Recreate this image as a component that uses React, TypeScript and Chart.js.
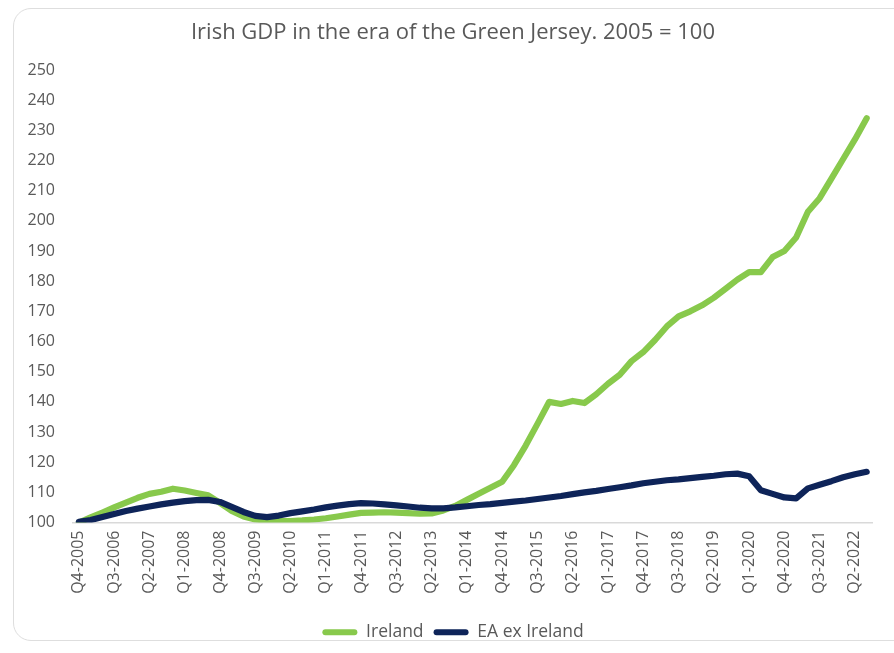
import React, { useEffect, useRef } from "react";
import { Chart, registerables } from "chart.js";

Chart.register(...registerables);

const quarters: string[] = [
  "Q4-2005",
  "Q1-2006", "Q2-2006", "Q3-2006", "Q4-2006",
  "Q1-2007", "Q2-2007", "Q3-2007", "Q4-2007",
  "Q1-2008", "Q2-2008", "Q3-2008", "Q4-2008",
  "Q1-2009", "Q2-2009", "Q3-2009", "Q4-2009",
  "Q1-2010", "Q2-2010", "Q3-2010", "Q4-2010",
  "Q1-2011", "Q2-2011", "Q3-2011", "Q4-2011",
  "Q1-2012", "Q2-2012", "Q3-2012", "Q4-2012",
  "Q1-2013", "Q2-2013", "Q3-2013", "Q4-2013",
  "Q1-2014", "Q2-2014", "Q3-2014", "Q4-2014",
  "Q1-2015", "Q2-2015", "Q3-2015", "Q4-2015",
  "Q1-2016", "Q2-2016", "Q3-2016", "Q4-2016",
  "Q1-2017", "Q2-2017", "Q3-2017", "Q4-2017",
  "Q1-2018", "Q2-2018", "Q3-2018", "Q4-2018",
  "Q1-2019", "Q2-2019", "Q3-2019", "Q4-2019",
  "Q1-2020", "Q2-2020", "Q3-2020", "Q4-2020",
  "Q1-2021", "Q2-2021", "Q3-2021", "Q4-2021",
  "Q1-2022", "Q2-2022", "Q3-2022",
];

const ireland: number[] = [
  100, 101.7, 103.3, 105, 106.6, 108.2, 109.5, 110.2, 111.2, 110.6,
  109.8, 109, 106.5, 103.8, 102, 101, 100.6, 100.5, 100.5, 100.7,
  101, 101.4, 102, 102.6, 103.2, 103.3, 103.4, 103.3, 103.1, 102.9,
  103, 104, 105.5, 107.5, 109.5, 111.5, 113.5, 119, 125.5, 132.7,
  140, 139.3, 140.3, 139.6, 142.5, 146, 149, 153.5, 156.5, 160.5,
  165, 168.3, 170, 172, 174.5, 177.5, 180.5, 183, 183, 188,
  190, 194.5, 203, 207.5, 214, 220.5, 227, 234,
];

const eaExIreland: number[] = [
  100.2, 100.8, 101.8, 102.8, 103.8, 104.6, 105.3, 106, 106.6, 107.1,
  107.4, 107.5, 106.8, 105.2, 103.5, 102.2, 101.8, 102.3, 103.1, 103.7,
  104.3, 105, 105.6, 106.1, 106.4, 106.3, 106, 105.7, 105.3, 104.9,
  104.7, 104.7, 105, 105.4, 105.8, 106.1, 106.5, 106.9, 107.3, 107.8,
  108.3, 108.8, 109.4, 110, 110.5, 111.1, 111.7, 112.3, 113, 113.5,
  114, 114.3, 114.7, 115.1, 115.5, 116, 116.2, 115.3, 110.7, 109.5,
  108.3, 108, 111.3, 112.5, 113.7, 115, 116, 116.8,
];

const seriesNames: string[] = ["Ireland", "EA ex Ireland"];
const titleText = "Irish GDP in the era of the Green Jersey. 2005 = 100";

const GREEN = "#88c94c";
const NAVY = "#0e2459";
const TEXT = "#595959";
const FONT = "'Open Sans', 'DejaVu Sans', sans-serif";

export default function App() {
  const canvasRef = useRef<HTMLCanvasElement | null>(null);

  useEffect(() => {
    if (!canvasRef.current) return;
    const chart = new Chart(canvasRef.current, {
      type: "line",
      data: {
        labels: quarters,
        datasets: [
          {
            label: seriesNames[0],
            data: ireland,
            borderColor: GREEN,
            backgroundColor: GREEN,
            borderWidth: 6.2,
            pointRadius: 0,
            tension: 0,
            borderJoinStyle: "round",
            borderCapStyle: "round",
            order: 1,
          },
          {
            label: seriesNames[1],
            data: eaExIreland,
            borderColor: NAVY,
            backgroundColor: NAVY,
            borderWidth: 6.2,
            pointRadius: 0,
            tension: 0,
            borderJoinStyle: "round",
            borderCapStyle: "round",
            order: 0,
          },
        ],
      },
      options: {
        animation: false,
        responsive: false,
        devicePixelRatio: 1,
        layout: { padding: { left: 27, right: 15, top: 20, bottom: 2 } },
        plugins: {
          tooltip: { enabled: false },
          title: {
            display: true,
            text: titleText,
            color: TEXT,
            font: { family: FONT, size: 22, weight: "normal" },
            padding: { top: 0, bottom: 23.6 },
          },
          legend: {
            display: true,
            position: "bottom",
            labels: {
              boxWidth: 35,
              boxHeight: 6,
              padding: 10,
              color: TEXT,
              font: { family: FONT, size: 17.5 },
              sort: (a: any, b: any) => a.datasetIndex - b.datasetIndex,
              generateLabels: (c: any) =>
                Chart.defaults.plugins.legend.labels
                  .generateLabels(c)
                  .map((l: any) => ({ ...l, lineWidth: 0, borderRadius: 3 })),
            },
          },
        },
        scales: {
          x: {
            type: "category",
            offset: true,
            grid: { display: false, drawTicks: false },
            border: { display: true, color: "#d9d9d9", width: 1.5 },
            ticks: {
              autoSkip: false,
              minRotation: 90,
              maxRotation: 90,
              padding: 8,
              color: TEXT,
              font: { family: FONT, size: 16 },
              callback: (_v: any, i: number) => (i % 3 === 0 ? quarters[i] : ""),
            },
            afterFit: (s: any) => {
              s.height = 91;
            },
          },
          y: {
            min: 100,
            max: 250,
            grid: { display: false, drawTicks: false },
            border: { display: false },
            ticks: {
              stepSize: 10,
              padding: 18,
              color: TEXT,
              font: { family: FONT, size: 16 },
            },
            afterFit: (s: any) => {
              s.width = 46;
            },
          },
        },
      },
    } as any);
    return () => chart.destroy();
  }, []);

  return (
    <div
      style={{
        position: "fixed",
        left: 0,
        top: 0,
        width: 894,
        height: 653,
        overflow: "hidden",
        background: "#ffffff",
      }}
    >
      <div
        style={{
          position: "absolute",
          left: 13,
          top: 8,
          width: 900,
          height: 633,
          border: "1.5px solid #dedede",
          borderRadius: 18,
          boxSizing: "border-box",
        }}
      />
      <canvas
        ref={canvasRef}
        width={894}
        height={653}
        style={{ position: "absolute", left: 0, top: 0, width: 894, height: 653 }}
      />
    </div>
  );
}
